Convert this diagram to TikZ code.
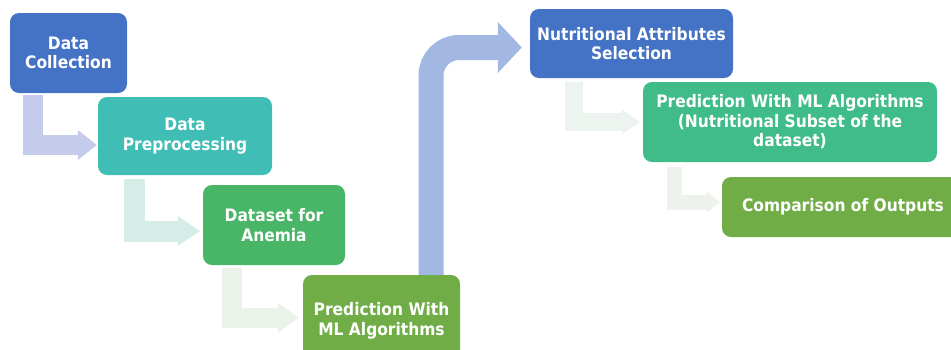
\documentclass[tikz,border=0pt]{standalone}
\usepackage{fontspec}
\setmainfont{DejaVu Sans}[FakeStretch=0.9]
\usepackage{tikz}
\usetikzlibrary{arrows.meta}
\definecolor{stepblue}{RGB}{68,114,196}
\definecolor{stepteal}{RGB}{64,189,180}
\definecolor{stepgreen}{RGB}{72,181,103}
\definecolor{stepolive}{RGB}{112,173,71}
\definecolor{stepmint}{RGB}{64,188,138}
\definecolor{bigarrow}{RGB}{162,184,226}
\definecolor{flowlav}{RGB}{197,203,234}
\definecolor{flowaqua}{RGB}{214,236,231}
\definecolor{flowpale}{RGB}{235,242,233}
\definecolor{flowmist}{RGB}{237,243,238}
\definecolor{flowfog}{RGB}{238,242,236}

\begin{document}
\begin{tikzpicture}[
    x=1pt, y=-1pt,
    every node/.style={rounded corners=9pt, text=white, align=center, inner sep=0pt,
        font=\fontsize{17.2}{19.5}\selectfont\bfseries},
    box/.style={fill=#1},
    flow/.style={draw=#1, line join=miter},
    >=Triangle
]
\useasboundingbox (0,0) rectangle (951,349);
\clip (0,0) rectangle (951,349);

\node[box=stepblue, minimum width=117pt, minimum height=80pt] (collect) at (68.5,53) {Data\\Collection};
\node[box=stepteal, minimum width=174pt, minimum height=78pt] (prep) at (185,136) {Data\\Preprocessing};
\node[box=stepgreen, minimum width=142pt, minimum height=80pt] (dataset) at (274,225) {Dataset for\\Anemia};
\node[box=stepolive, minimum width=157pt, minimum height=92pt] (predict) at (381.5,321) {Prediction With\\ML Algorithms};
\node[box=stepblue, minimum width=203pt, minimum height=69pt] (select) at (631.5,43.5) {Nutritional Attributes\\Selection};
\node[box=stepmint, minimum width=294pt, minimum height=80pt] (subset) at (790,122) {Prediction With ML Algorithms\\(Nutritional Subset of the\\dataset)};
\node[box=stepolive, minimum width=242pt, minimum height=60pt] (compare) at (843,207) {Comparison of Outputs};

% bent arrows between the steps
\draw[flow=flowlav, line width=20pt, shorten >=1pt,
    -{Triangle[length=19pt,width=30pt,line width=0pt]}]
    ([xshift=23pt, yshift=-2pt]collect.south west) |- ([yshift=-9pt]prep.west);
\draw[flow=flowaqua, line width=21pt, shorten >=3pt,
    -{Triangle[length=22pt,width=30pt,line width=0pt]}]
    ([xshift=37pt, yshift=-4pt]prep.south west) |- ([yshift=-6pt]dataset.west);
\draw[flow=flowpale, line width=20pt, shorten >=4pt,
    -{Triangle[length=21pt,width=30pt,line width=0pt]}]
    ([xshift=29pt, yshift=-3pt]dataset.south west) |- ([yshift=-43pt]predict.north west);
\draw[flow=flowmist, line width=18pt, shorten >=3pt,
    -{Triangle[length=18pt,width=25pt,line width=0pt]}]
    ([xshift=44pt, yshift=-4pt]select.south west) |- (subset.west);
\draw[flow=flowfog, line width=15pt, shorten >=2pt,
    -{Triangle[length=13pt,width=21pt,line width=0pt]}]
    ([xshift=32pt, yshift=-5pt]subset.south west) |- ([yshift=5pt]compare.west);

% long arrow up to the nutritional branch
\draw[draw=bigarrow, line width=25pt, rounded corners=28pt, shorten >=8pt,
    -{Triangle[length=24pt,width=51pt,line width=0pt]}]
    ([xshift=49.5pt]predict.north) |- ([yshift=-4pt]select.west);
\end{tikzpicture}
\end{document}
